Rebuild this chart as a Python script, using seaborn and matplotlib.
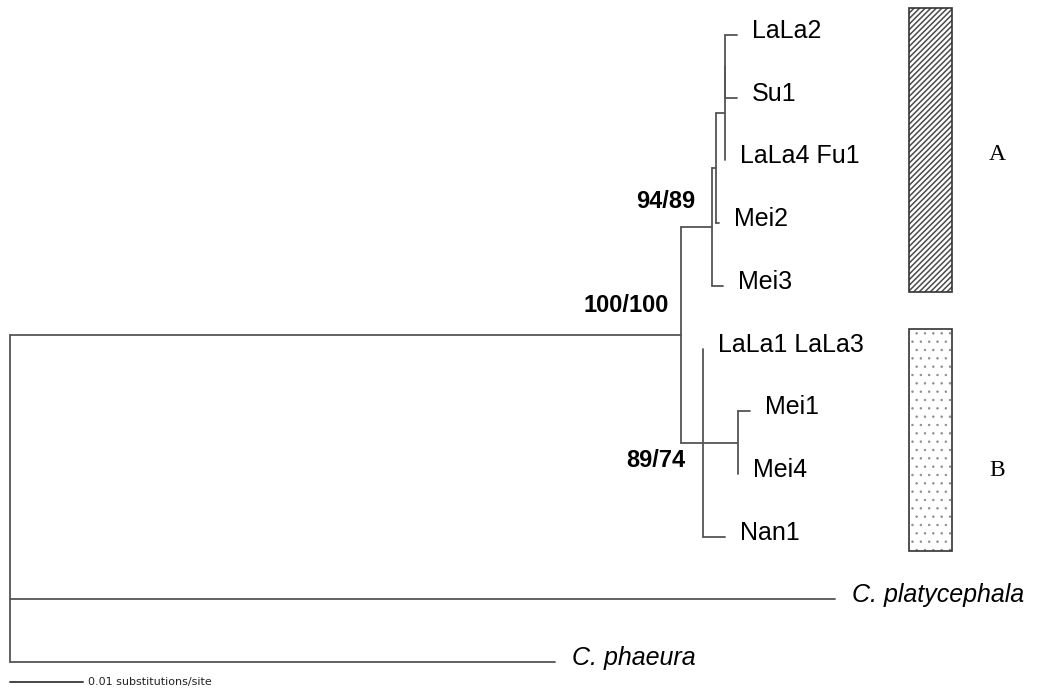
import matplotlib

matplotlib.use("Agg")
import matplotlib.pyplot as plt
import pandas as pd
import seaborn as sns

# tree: tips from top to bottom, then every node with its parent and branch length
tips = [
    "LaLa2", "Su1", "LaLa4 Fu1", "Mei2", "Mei3",
    "LaLa1 LaLa3", "Mei1", "Mei4", "Nan1",
    "C. platycephala", "C. phaeura",
]
outgroups = ["C. platycephala", "C. phaeura"]
node_names = [
    "ingroup", "A", "a1", "a2", "a3", "LaLa2", "Su1", "LaLa4 Fu1", "Mei2", "Mei3",
    "B", "LaLa1 LaLa3", "b1", "Mei1", "Mei4", "Nan1",
    "C. platycephala", "C. phaeura",
]
node_parents = [
    "root", "ingroup", "A", "a1", "a2", "a3", "a3", "a2", "a1", "A",
    "ingroup", "B", "B", "b1", "b1", "B",
    "root", "root",
]
branch_lengths = [
    0.0919, 0.00425, 0.00055, 0.0012, 0.00007, 0.00158, 0.00158, 0.0, 0.0004, 0.0015,
    0.0030, 0.0, 0.0048, 0.00165, 0.0, 0.0030,
    0.1130, 0.0747,
]
support_nodes = ["A", "ingroup", "B"]
support_values = ["94/89", "100/100", "89/74"]
clade_names = ["A", "B"]
clade_spans = [(-0.43, 4.10), (4.69, 8.23)]
clade_label_rows = [1.9, 6.95]
scale_len = 0.01

PX = 7300.0  # pixels per substitution/site
ROW = 62.7  # pixels per tip row
LINE = "#555555"

parent = dict(zip(node_names, node_parents))
blen = dict(zip(node_names, branch_lengths))
children = {}
for n, p in parent.items():
    children.setdefault(p, []).append(n)

depth = {"root": 0.0}


def get_depth(n):
    if n not in depth:
        depth[n] = get_depth(parent[n]) + blen[n]
    return depth[n]


ypos = {t: i for i, t in enumerate(tips)}


def get_y(n):
    if n not in ypos:
        ys = [get_y(c) for c in children[n]]
        ypos[n] = (min(ys) + max(ys)) / 2
    return ypos[n]


for n in node_names + ["root"]:
    get_depth(n)
    get_y(n)

# horizontal branch pieces, then the vertical joins of each node
rows = []
k = 0
for n in node_names:
    rows += [(k, depth[parent[n]], ypos[n]), (k, depth[n], ypos[n])]
    k += 1
for n, ch in children.items():
    ys = [ypos[c] for c in ch]
    rows += [(k, depth[n], min(ys)), (k, depth[n], max(ys))]
    k += 1
seg = pd.DataFrame(rows, columns=["seg", "x", "y"])

sns.set_theme(style="white")
plt.rcParams["font.family"] = ["Liberation Sans", "DejaVu Sans"]
plt.rcParams["text.color"] = "black"

fig = plt.figure(figsize=(10.48, 6.90), dpi=100)
ax = fig.add_axes([0, 0, 1, 1])
sns.lineplot(
    data=seg, x="x", y="y", units="seg", estimator=None, sort=False,
    color=LINE, linewidth=1.3, ax=ax,
)

# scale bar
bar_y = (682 - 35) / ROW
sb = pd.DataFrame({"x": [0, scale_len], "y": [bar_y, bar_y]})
sns.lineplot(data=sb, x="x", y="y", color="#444444", linewidth=1.4, ax=ax)
ax.annotate("0.01 substitutions/site", xy=(scale_len, bar_y), xytext=(5, 0),
            textcoords="offset pixels", va="center", ha="left", fontsize=8,
            family="DejaVu Sans", color="#222222")

# tip labels
for t in tips:
    out = t in outgroups
    ax.annotate(t, xy=(depth[t], ypos[t]), xytext=(17 if out else 15, 4),
                textcoords="offset pixels", va="center", ha="left", fontsize=18,
                style="italic" if out else "normal")

# bootstrap support
offsets = {"A": (-17, 26), "ingroup": (-12, 29), "B": (-17, -18)}
for n, v in zip(support_nodes, support_values):
    ax.annotate(v, xy=(depth[n], ypos[n]), xytext=offsets[n],
                textcoords="offset pixels", va="center", ha="right",
                fontsize=17, fontweight="bold")

# clade boxes: hatch fill first, dark outline on top
box_x = (909 - 10) / PX
box_w = 43 / PX
box_styles = [("//////", "#4a4a4a", 1.1), ("..", "#8a8a8a", 0.5)]
for (lo, hi), (hatch, hcol, hlw) in zip(clade_spans, box_styles):
    plt.rcParams["hatch.linewidth"] = hlw
    ax.bar(box_x, hi - lo, bottom=lo, width=box_w, align="edge",
           facecolor="white", edgecolor=hcol, hatch=hatch, linewidth=0)
    ax.bar(box_x, hi - lo, bottom=lo, width=box_w, align="edge",
           fill=False, edgecolor="#333333", linewidth=1.2)
for name, r in zip(clade_names, clade_label_rows):
    ax.text((997 - 10) / PX, r, name, ha="center", va="center",
            fontsize=17, family="Liberation Serif")

ax.set_xlim(-10 / PX, 1038 / PX)
ax.set_ylim((690 - 35) / ROW, -35 / ROW)
ax.set_axis_off()
fig.savefig("out.png", dpi=100)
